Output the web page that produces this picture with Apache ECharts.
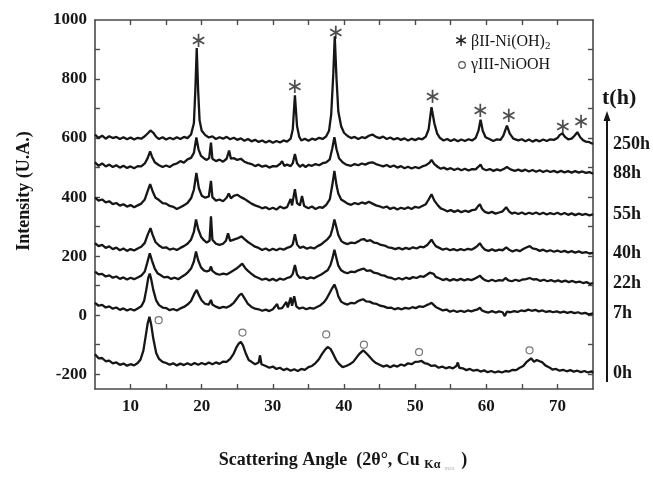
<!DOCTYPE html>
<html><head><meta charset="utf-8">
<script src="https://cdn.jsdelivr.net/npm/echarts@6/dist/echarts.min.js"></script>
<style>html,body{margin:0;padding:0;background:#fff}#c{width:653px;height:477px}</style>
</head><body><div id="c"></div>
<script>
// ---- data (2θ in degrees, intensity in U.A.) ----
const seriesNames = ['250h','88h','55h','40h','22h','7h','0h'];
const s250 = [[5,612],[5.5,600],[6,608],[6.5,598],[7,606],[7.5,600],[8,604],[8.5,597],[9,603],[9.5,596],[10,602],[10.5,595],[11,601],[11.5,598],[12,606],[12.5,618],[12.8,626],[13.2,618],[13.6,604],[14,597],[14.5,603],[15,595],[15.5,601],[16,596],[16.5,603],[17,597],[17.5,604],[18,600],[18.5,612],[18.9,650],[19.1,760],[19.3,905],[19.5,760],[19.7,660],[20,625],[20.5,610],[21,602],[21.5,606],[22,597],[22.5,603],[23,598],[23.5,604],[24,596],[24.5,601],[25,594],[25.5,599],[26,591],[26.5,597],[27,589],[27.5,594],[28,587],[28.5,592],[29,585],[29.5,591],[30,584],[30.5,590],[31,585],[31.5,592],[32,588],[32.5,598],[32.8,630],[33.1,745],[33.4,640],[33.7,605],[34,592],[34.5,598],[35,591],[35.5,598],[36,594],[36.5,601],[37,597],[37.5,606],[37.9,625],[38.2,680],[38.5,820],[38.7,945],[38.95,800],[39.2,690],[39.6,640],[40,618],[40.5,607],[41,600],[41.5,604],[42,597],[42.5,603],[43,600],[43.5,608],[44,612],[44.5,604],[45,600],[45.5,605],[46,597],[46.5,602],[47,595],[47.5,600],[48,594],[48.5,599],[49,592],[49.5,598],[50,593],[50.5,599],[51,596],[51.5,605],[51.9,630],[52.3,705],[52.7,650],[53.1,615],[53.5,600],[54,592],[54.5,597],[55,590],[55.5,596],[56,589],[56.5,595],[57,590],[57.5,596],[58,592],[58.5,600],[58.9,625],[59.2,662],[59.5,625],[59.9,603],[60.5,596],[61,590],[61.5,596],[62,594],[62.4,608],[62.9,642],[63.3,615],[63.8,598],[64.5,592],[65,596],[65.5,589],[66,595],[66.5,588],[67,594],[67.5,589],[68,595],[68.5,590],[69,596],[69.5,594],[70,600],[70.3,610],[70.7,616],[71.1,603],[71.5,596],[72,598],[72.4,608],[72.8,620],[73.2,603],[73.6,593],[74,588],[74.5,586],[75,580]];
const s88 = [[5,518],[5.5,506],[6,514],[6.5,504],[7,510],[7.5,502],[8,508],[8.5,500],[9,506],[9.5,499],[10,504],[10.5,498],[11,505],[11.5,504],[12,514],[12.4,532],[12.75,555],[13.0,538],[13.4,518],[14,508],[14.5,502],[15,507],[15.5,502],[16,510],[16.5,514],[17,522],[17.5,517],[18,528],[18.5,533],[18.9,550],[19.25,602],[19.55,562],[19.9,540],[20.3,532],[20.7,526],[21.05,532],[21.3,585],[21.5,530],[22,522],[22.5,527],[23,520],[23.5,530],[23.85,558],[24.1,530],[24.5,532],[25,526],[25.5,530],[26,520],[26.5,515],[27,512],[27.5,505],[28,510],[28.5,503],[29,507],[29.5,500],[30,505],[30.5,504],[31,512],[31.3,522],[31.6,506],[32,510],[32.5,505],[32.8,515],[33.1,546],[33.4,515],[33.8,503],[34.2,510],[34.6,502],[35,509],[35.5,506],[36,512],[36.5,508],[37,515],[37.5,518],[38,528],[38.35,565],[38.65,603],[38.95,562],[39.3,532],[39.8,518],[40.3,510],[41,506],[41.5,512],[42,508],[42.5,514],[43,510],[43.5,516],[44,518],[44.5,512],[45,508],[45.5,504],[46,509],[46.5,502],[47,507],[47.5,500],[48,505],[48.5,498],[49,503],[49.5,497],[50,502],[50.5,498],[51,504],[51.5,508],[52,516],[52.3,526],[52.7,512],[53.2,502],[53.6,496],[54,500],[54.5,494],[55,498],[55.5,492],[56,497],[56.5,491],[57,496],[57.5,490],[58,495],[58.5,494],[58.9,503],[59.2,510],[59.5,496],[60,491],[60.5,495],[61,489],[61.5,494],[62,490],[62.5,496],[62.9,502],[63.4,494],[64,489],[64.5,493],[65,488],[65.5,493],[66,487],[66.5,492],[67,486],[67.5,491],[68,485],[68.5,490],[69,485],[69.5,489],[70,484],[70.5,489],[71,484],[71.5,488],[72,483],[72.5,488],[73,483],[73.5,487],[74,482],[74.5,485],[75,479]];
const s55 = [[5,398],[5.5,388],[6,392],[6.5,382],[7,386],[7.5,376],[8,380],[8.5,371],[9,376],[9.5,368],[10,373],[10.5,366],[11,372],[11.5,378],[12,392],[12.4,420],[12.75,444],[13.1,420],[13.5,398],[14,390],[14.5,380],[15,378],[15.5,370],[16,367],[16.5,360],[17,366],[17.5,372],[18,380],[18.5,396],[18.9,425],[19.25,482],[19.6,430],[20,405],[20.5,398],[21,402],[21.3,455],[21.5,400],[22,388],[22.5,392],[23,386],[23.5,398],[23.8,412],[24.1,396],[24.5,404],[25,408],[25.5,400],[26,394],[26.5,386],[27,378],[27.5,372],[28,368],[28.5,362],[29,366],[29.5,359],[30,364],[30.5,358],[31,368],[31.5,362],[32,366],[32.5,394],[32.7,372],[33.1,427],[33.4,380],[33.8,372],[34.1,404],[34.4,370],[35,362],[35.5,368],[36,360],[36.5,366],[37,364],[37.5,374],[38,392],[38.35,440],[38.65,489],[38.95,440],[39.2,412],[39.6,392],[40,386],[40.5,378],[41,374],[41.5,380],[42,376],[42.5,382],[43,378],[43.5,384],[44,378],[44.5,372],[45,369],[45.5,364],[46,368],[46.5,360],[47,365],[47.5,358],[48,364],[48.5,360],[49,366],[49.5,360],[50,367],[50.5,364],[51,370],[51.5,376],[51.9,392],[52.3,410],[52.7,388],[53.2,372],[53.6,362],[54,358],[54.5,352],[55,356],[55.5,350],[56,355],[56.5,349],[57,354],[57.5,350],[58,356],[58.5,358],[58.8,368],[59.1,376],[59.4,360],[59.8,350],[60.3,346],[60.8,350],[61.3,344],[61.8,348],[62.3,352],[62.8,366],[63.2,352],[63.6,344],[64,348],[64.5,343],[65,348],[65.5,342],[66,347],[66.5,343],[67,348],[67.5,342],[68,347],[68.5,341],[69,346],[69.5,342],[70,347],[70.5,341],[71,346],[71.5,340],[72,345],[72.5,339],[73,344],[73.5,340],[74,343],[74.5,338],[75,342]];
const s40 = [[5,244],[5.5,234],[6,238],[6.5,228],[7,233],[7.5,224],[8,229],[8.5,220],[9,226],[9.5,218],[10,224],[10.5,219],[11,226],[11.5,232],[12,245],[12.4,272],[12.8,295],[13.1,272],[13.5,248],[14,236],[14.5,228],[15,230],[15.5,222],[16,226],[16.5,221],[17,228],[17.5,234],[18,242],[18.5,256],[18.9,282],[19.2,324],[19.5,292],[19.9,266],[20.3,254],[20.7,246],[21.1,252],[21.3,335],[21.5,256],[22,242],[22.5,238],[23,242],[23.4,252],[23.7,277],[24,252],[24.5,256],[25,260],[25.6,267],[26.1,256],[26.5,248],[27,240],[27.5,232],[28,228],[28.5,221],[29,226],[29.5,219],[30,225],[30.5,220],[31,226],[31.5,222],[32,228],[32.5,232],[32.8,240],[33.1,274],[33.4,240],[33.8,228],[34.3,232],[34.8,225],[35.3,230],[35.8,226],[36.3,234],[36.8,240],[37.3,250],[37.7,258],[38.1,270],[38.4,295],[38.65,324],[38.95,296],[39.2,272],[39.6,252],[40,245],[40.5,241],[41,246],[41.5,244],[42,250],[42.4,256],[42.8,258],[43.2,251],[43.7,254],[44.2,246],[44.7,244],[45.2,238],[45.7,236],[46.2,230],[46.7,228],[47.2,224],[47.7,228],[48.2,223],[48.7,228],[49.2,224],[49.7,230],[50.2,226],[50.7,232],[51.2,230],[51.7,238],[52.05,248],[52.3,256],[52.6,244],[52.9,234],[53.4,228],[53.9,222],[54.4,226],[54.9,220],[55.4,224],[55.9,219],[56.4,224],[56.9,220],[57.4,225],[57.9,222],[58.4,228],[58.8,236],[59.1,244],[59.4,232],[59.8,222],[60.3,218],[60.8,223],[61.3,218],[61.8,222],[62.3,220],[62.8,230],[63.2,222],[63.7,216],[64.2,221],[64.7,217],[65.2,224],[65.7,230],[66.1,234],[66.5,226],[67,224],[67.5,218],[68,222],[68.5,216],[69,220],[69.5,215],[70,219],[70.5,214],[71,218],[71.5,213],[72,217],[72.5,212],[73,216],[73.5,211],[74,214],[74.5,209],[75,211]];
const s22 = [[5,148],[5.5,138],[6,140],[6.5,131],[7,135],[7.5,127],[8,131],[8.5,123],[9,128],[9.5,121],[10,127],[10.5,122],[11,128],[11.5,134],[12,148],[12.35,178],[12.7,210],[13.0,186],[13.4,158],[13.8,142],[14.2,136],[14.7,128],[15.2,130],[15.7,123],[16.2,127],[16.7,122],[17.2,130],[17.6,136],[18,144],[18.5,158],[18.9,182],[19.2,216],[19.5,186],[19.9,162],[20.3,152],[20.7,148],[21.1,152],[21.3,165],[21.5,150],[22,141],[22.5,137],[23,141],[23.5,138],[24,145],[24.5,152],[25,160],[25.3,166],[25.7,175],[26.1,160],[26.5,150],[27,140],[27.5,131],[28,126],[28.5,120],[29,124],[29.5,118],[30,123],[30.5,117],[31,124],[31.5,120],[32,126],[32.5,130],[32.8,140],[33.1,170],[33.4,138],[33.8,126],[34.3,129],[34.8,123],[35.3,128],[35.8,125],[36.3,132],[36.8,138],[37.3,146],[37.7,152],[38.1,170],[38.4,195],[38.65,222],[38.95,192],[39.2,168],[39.6,152],[40,146],[40.5,142],[41,148],[41.5,146],[42,152],[42.4,155],[42.8,158],[43.2,150],[43.7,152],[44.2,144],[44.7,142],[45.2,136],[45.7,134],[46.2,128],[46.7,126],[47.2,121],[47.7,126],[48.2,121],[48.7,127],[49.2,123],[49.7,129],[50.2,126],[50.7,132],[51.2,130],[51.7,138],[52.05,144],[52.3,149],[52.6,140],[52.9,130],[53.4,125],[53.9,119],[54.4,123],[54.9,117],[55.4,122],[55.9,118],[56.4,123],[56.9,118],[57.4,122],[57.9,119],[58.4,124],[58.8,129],[59.1,134],[59.4,126],[59.8,119],[60.3,115],[60.8,120],[61.3,115],[61.8,119],[62.3,117],[62.7,126],[63.1,118],[63.6,115],[64.1,120],[64.6,116],[65.1,121],[65.6,122],[66.1,126],[66.6,121],[67.1,122],[67.6,116],[68.1,120],[68.6,115],[69.1,119],[69.6,114],[70.1,118],[70.6,113],[71.1,117],[71.6,112],[72.1,116],[72.6,111],[73.1,114],[73.6,109],[74.1,112],[74.6,106],[75,109]];
const s7 = [[5,42],[5.5,32],[6,35],[6.5,26],[7,30],[7.5,22],[8,26],[8.5,18],[9,23],[9.5,16],[10,21],[10.5,16],[11,23],[11.5,30],[11.9,48],[12.2,85],[12.5,128],[12.7,141],[12.9,122],[13.2,85],[13.6,50],[14,34],[14.5,26],[15,24],[15.5,17],[16,21],[16.5,16],[17,23],[17.5,28],[18,36],[18.5,48],[19,74],[19.3,86],[19.6,68],[20,50],[20.5,38],[21,36],[21.3,52],[21.5,36],[22,29],[22.5,24],[23,28],[23.5,26],[24,32],[24.5,42],[24.9,55],[25.3,68],[25.6,73],[26,58],[26.5,38],[27,28],[27.5,22],[28,20],[28.5,15],[29,19],[29.5,14],[30,20],[30.6,38],[30.8,22],[31.3,24],[31.9,45],[32.1,26],[32.5,60],[32.7,32],[33,64],[33.3,30],[33.7,22],[34.2,26],[34.7,20],[35.2,25],[35.7,22],[36.2,28],[36.7,34],[37.2,44],[37.6,58],[38,76],[38.35,92],[38.65,104],[38.95,86],[39.2,64],[39.6,46],[40,40],[40.5,36],[41,42],[41.5,40],[42,48],[42.4,52],[42.7,54],[43.1,47],[43.6,46],[44.1,40],[44.6,38],[45.1,32],[45.6,30],[46.1,25],[46.6,26],[47.1,20],[47.6,24],[48.1,20],[48.6,25],[49.1,22],[49.6,27],[50.1,24],[50.6,30],[51.1,28],[51.6,34],[52,38],[52.3,42],[52.6,35],[52.9,28],[53.4,22],[53.9,16],[54.4,19],[54.9,12],[55.4,16],[55.9,11],[56.4,15],[56.9,11],[57.4,16],[57.9,13],[58.4,17],[58.8,20],[59.1,25],[59.4,16],[59.8,12],[60.3,9],[60.8,14],[61.3,9],[61.8,13],[62.3,10],[62.6,-3],[62.9,12],[63.4,10],[63.9,14],[64.4,11],[64.9,16],[65.4,14],[65.9,19],[66.4,15],[66.9,18],[67.4,13],[67.9,16],[68.4,11],[68.9,14],[69.4,10],[69.9,13],[70.4,9],[70.9,12],[71.4,8],[71.9,11],[72.4,7],[72.9,10],[73.4,5],[73.9,8],[74.4,3],[75,6]];
const s0 = [[5,-132],[5.5,-146],[6,-145],[6.5,-156],[7,-154],[7.5,-163],[8,-160],[8.5,-168],[9,-164],[9.5,-171],[10,-166],[10.5,-170],[11,-162],[11.4,-150],[11.8,-120],[12.1,-75],[12.4,-28],[12.65,-5],[12.9,-32],[13.2,-80],[13.6,-128],[14,-148],[14.5,-158],[15,-162],[15.5,-168],[16,-163],[16.5,-170],[17,-164],[17.5,-169],[18,-163],[18.5,-169],[19,-162],[19.5,-168],[20,-162],[20.5,-167],[21,-160],[21.5,-166],[22,-160],[22.5,-165],[23,-157],[23.5,-158],[24,-148],[24.5,-130],[24.9,-108],[25.2,-96],[25.5,-90],[25.8,-102],[26.2,-130],[26.6,-152],[27,-158],[27.5,-166],[28,-160],[28.2,-136],[28.4,-166],[29,-172],[29.5,-178],[30,-174],[30.5,-182],[31,-178],[31.5,-186],[32,-181],[32.5,-188],[33,-183],[33.5,-189],[34,-182],[34.5,-185],[35,-176],[35.5,-172],[36,-162],[36.5,-148],[36.9,-132],[37.3,-118],[37.7,-108],[38.1,-114],[38.5,-132],[38.9,-152],[39.3,-165],[39.8,-176],[40.3,-172],[40.8,-166],[41.3,-158],[41.8,-142],[42.2,-130],[42.7,-119],[43.1,-128],[43.5,-138],[44,-152],[44.5,-162],[45,-168],[45.5,-174],[46,-170],[46.5,-176],[47,-170],[47.5,-174],[48,-167],[48.5,-171],[49,-163],[49.5,-166],[50,-158],[50.5,-157],[50.9,-155],[51.3,-162],[51.8,-165],[52.3,-172],[52.8,-170],[53.3,-178],[53.8,-174],[54.3,-180],[54.8,-176],[55.3,-180],[55.8,-172],[56,-160],[56.2,-178],[56.7,-180],[57.2,-186],[57.7,-182],[58.2,-188],[58.7,-185],[59.2,-191],[59.7,-187],[60.2,-193],[60.7,-189],[61.2,-194],[61.7,-190],[62.2,-194],[62.7,-189],[63.2,-191],[63.7,-185],[64.2,-186],[64.7,-178],[65.2,-172],[65.6,-160],[66,-152],[66.3,-146],[66.7,-158],[67.1,-152],[67.5,-156],[67.9,-160],[68.3,-170],[68.8,-176],[69.3,-184],[69.8,-182],[70.3,-188],[70.8,-185],[71.3,-190],[71.8,-186],[72.3,-191],[72.8,-188],[73.3,-193],[73.8,-189],[74.3,-194],[74.8,-190],[75,-196]];
// peak markers
const betaMarks = [[19.56,926],[33.08,771],[38.83,955],[52.43,737],[59.17,691],[63.18,673],[70.75,634],[73.33,653]];
const gammaMarks = [[13.95,-17],[25.73,-59],[37.5,-65],[42.8,-100],[50.55,-125],[66.08,-119]];
// axes
const xTickValues = [10,15,20,25,30,35,40,45,50,55,60,65,70];
const xLabelValues = [10,20,30,40,50,60,70];
const yLabelValues = [-200,0,200,400,600,800,1000];
const yTickValues = [-200,-100,0,100,200,300,400,500,600,700,800,900];
const legendTexts = ['βII-Ni(OH)', 'γIII-NiOOH'];

const traces = [s250, s88, s55, s40, s22, s7, s0];
const SERIF = '"Liberation Serif","Times New Roman",serif';
const ink = '#161616';

const chart = echarts.init(document.getElementById('c'), null, {renderer: 'canvas'});
const axisCommon = {
  axisLine: {show: true, onZero: false, lineStyle: {color: '#4a4a4a', width: 1.6}},
  splitLine: {show: false}
};
const plain = function (v) { return String(v); };
const option = {
  animation: false,
  backgroundColor: '#fff',
  grid: {left: 95, right: 60, top: 20, bottom: 88, containLabel: false},
  xAxis: [
    Object.assign({type: 'value', min: 5, max: 75, position: 'bottom',
      axisTick: {show: true, inside: true, length: 5, customValues: xTickValues, lineStyle: {color: '#4a4a4a', width: 1.4}},
      axisLabel: {show: true, customValues: xLabelValues, formatter: plain, margin: 9, fontFamily: SERIF, fontWeight: 'bold', fontSize: 17, color: ink}
    }, axisCommon),
    Object.assign({type: 'value', min: 5, max: 75, position: 'top',
      axisTick: {show: true, inside: true, length: 5, customValues: xTickValues, lineStyle: {color: '#4a4a4a', width: 1.4}},
      axisLabel: {show: false}
    }, axisCommon)
  ],
  yAxis: [
    Object.assign({type: 'value', min: -250, max: 1000, position: 'left',
      axisTick: {show: true, inside: true, length: 5, customValues: yTickValues, lineStyle: {color: '#4a4a4a', width: 1.4}},
      axisLabel: {show: true, customValues: yLabelValues, formatter: plain, margin: 8, fontFamily: SERIF, fontWeight: 'bold', fontSize: 17, color: ink}
    }, axisCommon),
    Object.assign({type: 'value', min: -250, max: 1000, position: 'right',
      axisTick: {show: true, inside: true, length: 5, customValues: yTickValues, lineStyle: {color: '#4a4a4a', width: 1.4}},
      axisLabel: {show: false}
    }, axisCommon)
  ],
  series: [],
  graphic: []
};

traces.forEach(function (d, i) {
  option.series.push({
    type: 'line', name: seriesNames[i], data: d, xAxisIndex: 0, yAxisIndex: 0,
    showSymbol: false, symbol: 'none', smooth: false,
    lineStyle: {color: ink, width: 2.3},
    endLabel: {show: true, formatter: '{a}', distance: 20, fontFamily: SERIF, fontWeight: 'bold', fontSize: 18, color: ink, offset: [0, 0]}
  });
});
option.series.push({
  type: 'scatter', data: betaMarks, symbolSize: 1, itemStyle: {color: 'rgba(0,0,0,0)'},
  label: {show: true, position: 'inside', formatter: '∗', fontFamily: '"DejaVu Sans"', fontWeight: 'normal', fontSize: 21, color: '#222'}
});
option.series.push({
  type: 'scatter', data: gammaMarks, symbol: 'circle', symbolSize: 7,
  itemStyle: {color: 'rgba(255,255,255,0)', borderColor: '#555', borderWidth: 1.2}
});

option.graphic = [
  // y-axis title
  {type: 'text', x: 24, y: 191, rotation: Math.PI / 2,
   style: {text: 'Intensity (U.A.)', font: 'bold 18px ' + SERIF, fill: ink, align: 'center', verticalAlign: 'middle'}},
  // x-axis title
  {type: 'text', x: 343, y: 460,
   style: {text: '{a|Scattering Angle  (2θ°, Cu }{s|Kα}{t|max}{a| )}', align: 'center', verticalAlign: 'middle', fill: ink,
     rich: {a: {font: 'bold 18px ' + SERIF, fill: ink},
            s: {font: 'bold 12px ' + SERIF, fill: ink, padding: [10, 0, 0, 0]},
            t: {font: '6px ' + SERIF, fill: '#bbb', padding: [16, 2, 0, 4]}}}},
  // legend
  {type: 'text', x: 461, y: 41,
   style: {text: '∗', font: '18px "DejaVu Sans"', fill: '#222', align: 'center', verticalAlign: 'middle'}},
  {type: 'text', x: 471, y: 42,
   style: {text: '{a|' + legendTexts[0] + '}{s|2}', verticalAlign: 'middle', fill: ink,
     rich: {a: {font: '16px ' + SERIF, fill: ink}, s: {font: '11px ' + SERIF, fill: ink, padding: [8, 0, 0, 0]}}}},
  {type: 'circle', shape: {cx: 462, cy: 65, r: 3.3}, style: {fill: 'none', stroke: '#555', lineWidth: 1.2}},
  {type: 'text', x: 471, y: 65,
   style: {text: legendTexts[1], font: '16px ' + SERIF, fill: ink, verticalAlign: 'middle'}},
  // time arrow
  {type: 'text', x: 602, y: 98,
   style: {text: 't(h)', font: 'bold 22px ' + SERIF, fill: ink, verticalAlign: 'middle'}},
  {type: 'line', shape: {x1: 607, y1: 382, x2: 607, y2: 118}, style: {stroke: ink, lineWidth: 2}},
  {type: 'polygon', shape: {points: [[607, 111], [603.5, 121], [610.5, 121]]}, style: {fill: ink}}
];
chart.setOption(option);
</script>
</body></html>
